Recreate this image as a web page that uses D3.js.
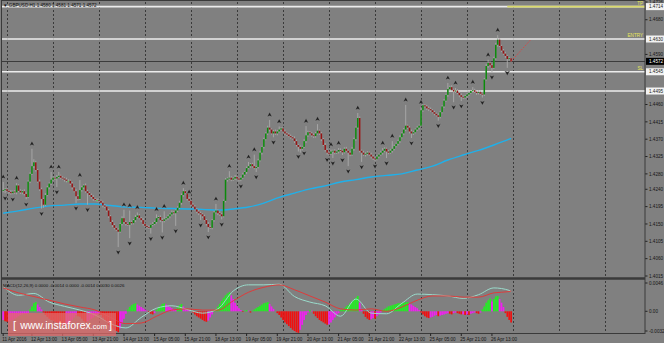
<!DOCTYPE html>
<html>
<head>
<meta charset="utf-8">
<script src="https://cdn.jsdelivr.net/npm/d3@7"></script>
<style>
html, body { margin: 0; padding: 0; background: #808080; }
svg { display: block; font-family: "Liberation Sans", Arial, sans-serif; }
</style>
</head>
<body>
<svg id="chart"></svg>
<script>
// GBPUSD H1 – prices are stored as pips above 1.4000
const symbolTitle = "GBPUSD,H1";
const firstOpen = 236;
const closes = [
  238,240,236,233,230,234,232,250,236,232,
  235,228,220,260,280,300,310,290,260,240,
  215,200,225,245,255,265,270,268,272,275,
  270,268,265,262,262,255,245,235,222,215,
  238,245,250,235,230,225,220,215,212,212,
  210,205,198,195,185,170,155,147,140,135,
  130,150,165,155,150,148,155,152,160,168,
  172,165,160,150,145,142,140,148,150,155,
  165,168,160,158,162,165,170,175,180,178,
  185,192,205,225,235,230,215,210,200,195,
  188,182,178,175,170,160,150,142,140,160,
  180,185,178,175,170,210,265,268,270,265,
  268,272,268,265,270,278,285,295,300,305,
  300,295,298,315,335,350,370,385,400,395,
  385,390,385,390,395,398,390,385,382,378,
  375,372,365,355,350,345,350,365,380,388,
  385,380,378,385,392,385,370,355,342,335,
  332,338,340,335,338,342,340,336,345,340,
  335,330,345,370,400,425,340,335,330,332,
  335,330,325,320,318,325,330,335,340,345,
  338,335,340,345,352,358,365,375,385,395,
  405,400,390,385,388,395,400,405,445,458,
  455,450,448,445,440,436,432,428,440,455,
  470,485,500,505,498,494,496,490,484,480,
  478,482,486,490,495,497,493,490,492,488,
  486,525,560,568,562,555,580,615,628,612,
  600,592,586,578,580,572
];
// wick length above / below the body, pips
const upperWick = [
  21,3,4,2,5,3,4,6,3,4, 3,5,4,3,4,45,8,4,3,5, 4,3,5,4,3,20,4,3,5,10,
  3,4,3,5,4,3,4,3,5,4, 26,4,3,5,4,3,4,5,3,4, 4,3,5,4,3,4,3,5,4,3,
  4,3,5,22,4,3,30,4,3,5, 8,4,3,5,4,3,4,3,5,4, 10,3,4,5,21,3,4,3,5,4,
  3,4,5,4,8,3,4,5,3,4, 4,3,5,4,3,4,3,5,4,3, 4,17,3,5,4,3,4,3,17,4,
  3,5,4,3,4,5,3,4,11,3, 4,30,3,4,5,3,4,3,5,20, 3,4,5,4,8,3,4,5,3,4,
  4,3,5,4,3,4,3,5,24,4, 3,4,5,4,17,3,4,3,5,4, 4,5,3,4,3,5,4,3,4,5,
  3,4,5,4,3,13,4,3,5,4, 4,3,5,4,3,4,3,5,7,4, 3,4,5,20,4,3,4,5,3,4,
  54,3,4,5,4,3,4,3,8,4, 3,4,5,4,3,4,3,5,4,3, 4,3,16,4,5,3,7,4,3,5,
  4,3,4,5,3,8,4,3,5,4, 3,4,5,8,4,3,4,5,12,4, 3,4,5,3,4,1
];
const lowerWick = [
  4,8,3,5,4,3,4,5,3,4, 5,4,6,3,4,3,5,4,3,4, 25,8,4,3,5,4,3,4,22,3,
  4,3,5,4,3,4,5,3,18,4, 3,4,5,4,30,3,4,5,3,4, 4,3,5,4,3,4,3,5,4,3,
  40,3,4,5,4,3,35,4,3,5, 4,3,5,4,3,4,3,15,4,3, 4,3,5,30,4,3,4,5,3,4,
  33,4,3,5,4,3,4,3,5,4, 3,4,5,15,4,3,4,13,3,4, 4,3,5,4,8,3,4,5,3,4,
  3,4,5,5,4,3,4,5,3,4, 4,3,10,4,3,5,4,3,4,5, 3,10,4,5,3,4,3,5,4,3,
  4,3,5,4,12,10,4,3,5,4, 3,4,5,4,3,4,5,3,4,5, 4,3,17,4,3,5,4,7,3,4,
  35,4,3,5,4,3,4,24,3,5, 4,3,5,4,5,3,4,3,5,4, 17,4,3,5,4,3,4,5,3,4,
  4,3,5,12,4,3,4,5,3,4, 3,4,5,4,3,4,3,10,4,3, 4,3,5,4,3,28,4,3,5,11,
  4,3,5,4,3,4,3,5,4,3, 8,4,3,5,4,11,3,4,5,3, 4,3,5,23,4,1
];
const fractalsUp = [0,7,15,25,29,40,63,66,70,80,84,94,97,111,118,128,131,139,144,158,164,171,175,185,198,203,210,218,232,236,245,253,258];
const fractalsDown = [1,5,12,20,28,38,44,60,66,77,83,90,103,107,114,124,132,141,154,157,169,172,177,180,187,194,200,213,227,235,239,250,255,263];

// moving average, pips, sampled at these bars
const maBars   = [0,8,16,24,32,40,48,56,64,72,80,88,96,104,112,120,128,136,144,152,160,168,176,184,192,200,208,216,224,232,240,248,256,264,265];
const maValues = [178,184,191,197,199,202,202,198,194,193,191,190,189,188,186,189,194,204,219,230,241,249,259,265,272,276,280,290,300,316,329,341,355,370,372];

// levels
const levelPrices = [1.4714, 1.4630, 1.4545, 1.4495];
const levelNames  = ["TP", "ENTRY", "SL", ""];
const tpStartBar = 263;
const trendBars = [265, 275];
const trendPrices = [1.4572, 1.4627];

const priceTicks = [1.4726,1.4680,1.4590,1.4460,1.4415,1.4370,1.4325,1.4280,1.4240,1.4195,1.4150,1.4105,1.4060,1.4015];
const timeBars = [0,15,31,47,63,79,95,111,127,143,159,175,191,207,223,239,255];
const timeLabels = ["11 Apr 2016","12 Apr 13:00","13 Apr 05:00","13 Apr 21:00","14 Apr 13:00","15 Apr 05:00","15 Apr 21:00","18 Apr 13:00","19 Apr 05:00","19 Apr 21:00","20 Apr 13:00","21 Apr 05:00","21 Apr 21:00","22 Apr 13:00","25 Apr 05:00","25 Apr 21:00","26 Apr 13:00"];

// MACD, in units of 0.0001
const macdHist = [
  -14,-16,-17,-16,-15,-14,-12,-10,-8,-6,
  -5,-4,-4,-3,3,8,13,15,11,7,
  3,-2,-6,-9,-12,-14,-15,-17,-18,-19,
  -20,-21,-22,-21,-20,-18,-14,-10,-6,-8,
  -9,-12,-16,-18,-16,-14,-12,-10,-8,-6,
  -4,-6,-10,-14,-18,-22,-25,-28,-30,-32,
  -34,-28,-20,-12,-4,3,7,10,12,13,
  11,9,7,5,3,1,-2,-4,-5,-3,
  2,6,9,12,13,11,9,7,5,3,
  2,6,10,12,8,5,3,2,0,-2,
  -5,-8,-10,-12,-14,-16,-17,-15,-10,-5,
  2,4,8,12,17,22,26,29,31,26,
  20,14,9,5,2,-1,1,2,1,-2,
  1,3,5,7,9,11,13,14,15,12,
  8,4,0,-3,-6,-10,-14,-18,-21,-24,
  -27,-30,-32,-34,-35,-30,-22,-14,-6,-2,
  2,1,-4,-8,-11,-14,-16,-18,-20,-22,
  -21,-18,-14,-10,-6,-3,2,3,5,8,
  10,13,16,19,22,25,14,4,-4,-9,
  -12,-14,-13,-11,-12,-8,-5,-2,2,4,
  6,8,9,10,11,12,13,13,14,14,
  15,15,13,11,9,7,5,2,-2,-5,
  -8,-10,-11,-10,-9,-7,-6,-8,-7,-6,
  -5,-4,-3,-4,-5,-3,-2,-3,-4,-5,
  -5,-6,-5,-6,-4,-3,-2,-3,-4,-2,
  3,8,14,18,21,16,20,24,25,20,
  14,7,-3,-9,-14,-18
];
const macdBars   = [0,8,16,24,32,40,48,56,64,72,80,88,96,104,112,120,128,136,144,152,160,168,176,184,192,200,208,216,224,232,240,248,256,264,265];
const macdMain   = [40,26,29,15,8,2,-6,-20,-27,-10,5,9,3,-3,4,33,43,43,44,24,15,9,-8,20,-3,-4,13,28,27,25,21,27,38,34,32];
const macdSignal = [38,30,24,18,12,7,2,-10,-20,-19,-8,2,4,2,2,17,31,39,43,35,25,15,4,2,4,0,7,18,25,25,23,23,30,32,33];
const macdTitle = "MACD(12,26,9) 0.0000 -0.0014 0.0000 -0.0014 0.0030 0.0026";
const macdTicks = [0.0046, 0.00, -0.0032];
const macdTickText = ["0.0046", "0.00", "-0.0032"];

const width = 664, height = 343;
const plotRight = 645;
const svg = d3.select("#chart").attr("width", width).attr("height", height);

const x = d3.scaleLinear().domain([0, 24]).range([3.2, 3.2 + 46]);
const y = d3.scaleLinear().domain([1.4015, 1.4726]).range([276, 2]);
const ym = d3.scaleLinear().domain([-0.0032, 0.0046]).range([331, 283]);
const pip = v => 1.4 + v / 10000;

svg.append("rect").attr("width", width).attr("height", height).attr("fill", "#808080");

// dotted vertical grid (both panes)
const gridBars = d3.range(2, 330, 24);
[[2, 277], [281, 333]].forEach(([t, b]) => {
  svg.append("g").selectAll("line").data(gridBars).join("line")
    .attr("x1", d => Math.round(x(d)) + 0.5).attr("x2", d => Math.round(x(d)) + 0.5)
    .attr("y1", t).attr("y2", b)
    .attr("stroke", "#3a3a3a").attr("stroke-dasharray", "2,2");
});

// level lines
svg.append("g").selectAll("line").data(levelPrices).join("line")
  .attr("x1", 2).attr("x2", plotRight)
  .attr("y1", d => y(d)).attr("y2", d => y(d))
  .attr("stroke", "#ececec").attr("stroke-width", 1.6);

svg.append("line")
  .attr("x1", x(tpStartBar)).attr("x2", plotRight)
  .attr("y1", y(levelPrices[0])).attr("y2", y(levelPrices[0]))
  .attr("stroke", "#d9d96a").attr("stroke-width", 1.6);

// current price line
const lastClose = pip(closes[closes.length - 1]);
svg.append("line")
  .attr("x1", 2).attr("x2", plotRight)
  .attr("y1", Math.round(y(lastClose)) + 0.5).attr("y2", Math.round(y(lastClose)) + 0.5)
  .attr("stroke", "#3c3c3c");

// moving average
svg.append("path")
  .datum(maBars.map((b, i) => [b, maValues[i]]))
  .attr("fill", "none").attr("stroke", "#1fb0ea").attr("stroke-width", 1.4)
  .attr("d", d3.line().x(d => x(d[0])).y(d => y(pip(d[1]))).curve(d3.curveMonotoneX));

// candles
const bars = closes.map((c, i) => {
  const o = i === 0 ? firstOpen : closes[i - 1];
  return { i, o, c, h: Math.max(o, c) + upperWick[i], l: Math.min(o, c) - lowerWick[i] };
});
const candle = svg.append("g").selectAll("g").data(bars).join("g");
candle.append("line")
  .attr("x1", d => x(d.i)).attr("x2", d => x(d.i))
  .attr("y1", d => y(pip(d.h))).attr("y2", d => y(pip(d.l)))
  .attr("stroke", "#a9a9a9").attr("stroke-width", 0.9);
candle.append("rect")
  .attr("x", d => x(d.i) - 0.75).attr("width", 1.5)
  .attr("y", d => y(pip(Math.max(d.o, d.c))))
  .attr("height", d => Math.max(0.8, y(pip(Math.min(d.o, d.c))) - y(pip(Math.max(d.o, d.c)))))
  .attr("fill", d => d.c > d.o ? "#0b8a0b" : d.c < d.o ? "#961414" : "#33dd33");

// fractals
const upArrow = "M0,-2.8 L2.6,2.1 L0,0.9 L-2.6,2.1 Z";
svg.append("g").selectAll("path").data(fractalsUp).join("path")
  .attr("d", upArrow)
  .attr("transform", d => `translate(${x(d)},${y(pip(bars[d].h)) - 5})`)
  .attr("fill", "#1c1c1c").attr("stroke", "#9a9a9a").attr("stroke-width", 0.4);
svg.append("g").selectAll("path").data(fractalsDown).join("path")
  .attr("d", upArrow)
  .attr("transform", d => `translate(${x(d)},${y(pip(bars[d].l)) + 5}) scale(1,-1)`)
  .attr("fill", "#1c1c1c").attr("stroke", "#9a9a9a").attr("stroke-width", 0.4);

// red dotted projection
svg.append("line")
  .attr("x1", x(trendBars[0])).attr("y1", y(trendPrices[0]))
  .attr("x2", x(trendBars[1])).attr("y2", y(trendPrices[1]))
  .attr("stroke", "#e63c3c").attr("stroke-width", 0.9).attr("stroke-dasharray", "1.5,1.5");

// level names
svg.append("g").selectAll("text").data(levelNames).join("text")
  .attr("x", 643).attr("y", (d, i) => y(levelPrices[i]) - 2)
  .attr("text-anchor", "end").attr("font-size", 4.6).attr("fill", "#e8e85a")
  .text(d => d);

// header
const last = bars[bars.length - 1];
svg.append("text").attr("x", 3).attr("y", 6.5).attr("font-size", 4.6).attr("fill", "#111")
  .text(`▼ ${symbolTitle}  ${pip(last.o).toFixed(4)} ${pip(last.h).toFixed(4)} ${pip(last.l).toFixed(4)} ${pip(last.c).toFixed(4)}`);

// price axis
const axisG = svg.append("g");
axisG.selectAll("line").data(priceTicks).join("line")
  .attr("x1", plotRight).attr("x2", plotRight + 2.5)
  .attr("y1", d => y(d)).attr("y2", d => y(d)).attr("stroke", "#222");
axisG.selectAll("text").data(priceTicks).join("text")
  .attr("x", plotRight + 4).attr("y", d => y(d) + 1.7)
  .attr("font-size", 4.6).attr("fill", "#151515")
  .text(d => d.toFixed(4));

const boxes = levelPrices.map(p => ({ p, bg: "#f2f2f2", fg: "#222" }))
  .concat([{ p: lastClose, bg: "#000", fg: "#fff" }]);
const boxG = svg.append("g").selectAll("g").data(boxes).join("g")
  .attr("transform", d => `translate(${plotRight + 1},${y(d.p)})`);
boxG.append("rect").attr("x", 0).attr("y", -3.5).attr("width", 19).attr("height", 7).attr("fill", d => d.bg);
boxG.append("text").attr("x", 3).attr("y", 1.7).attr("font-size", 4.6).attr("fill", d => d.fg)
  .text(d => d.p.toFixed(4));

// MACD histogram
const histG = svg.append("g");
histG.selectAll("line").data(macdHist).join("line")
  .attr("x1", (d, i) => x(i)).attr("x2", (d, i) => x(i))
  .attr("y1", ym(0)).attr("y2", d => ym(d / 10000))
  .attr("stroke-width", 1.7)
  .attr("stroke", (d, i) => {
    const prev = i === 0 ? d : macdHist[i - 1];
    if (d >= 0) return d >= prev ? "#22ee22" : "#f020f0";
    return d < prev ? "#f01010" : "#f020f0";
  });

const lineM = d3.line().x(d => x(d[0])).y(d => ym(d[1] / 10000)).curve(d3.curveMonotoneX);
svg.append("path").datum(macdBars.map((b, i) => [b, macdMain[i]]))
  .attr("fill", "none").attr("stroke", "#9adccc").attr("stroke-width", 1).attr("d", lineM);
svg.append("path").datum(macdBars.map((b, i) => [b, macdSignal[i]]))
  .attr("fill", "none").attr("stroke", "#e03a3a").attr("stroke-width", 1).attr("d", lineM);

svg.append("text").attr("x", 3).attr("y", 287).attr("font-size", 4.4).attr("fill", "#111").text(macdTitle);

const mAxis = svg.append("g");
mAxis.selectAll("line").data(macdTicks).join("line")
  .attr("x1", plotRight).attr("x2", plotRight + 2.5)
  .attr("y1", d => ym(d)).attr("y2", d => ym(d)).attr("stroke", "#222");
mAxis.selectAll("text").data(macdTickText).join("text")
  .attr("x", plotRight + 4).attr("y", (d, i) => ym(macdTicks[i]) + 1.7)
  .attr("font-size", 4.6).attr("fill", "#151515").text(d => d);

// frames
svg.append("rect").attr("x", 1.5).attr("y", 0.5).attr("width", plotRight - 1.5).attr("height", 333)
  .attr("fill", "none").attr("stroke", "#3a3a3a");
svg.append("line").attr("x1", 1.5).attr("x2", plotRight).attr("y1", 278.5).attr("y2", 278.5)
  .attr("stroke", "#3a3a3a").attr("stroke-width", 2.5);

// time axis
const tG = svg.append("g");
tG.selectAll("line").data(timeBars).join("line")
  .attr("x1", d => x(d)).attr("x2", d => x(d)).attr("y1", 333.5).attr("y2", 336)
  .attr("stroke", "#222");
tG.selectAll("text").data(timeLabels).join("text")
  .attr("x", (d, i) => x(timeBars[i]) - 1).attr("y", 341)
  .attr("font-size", 4.6).attr("fill", "#151515").text(d => d);

// watermark
const wm = svg.append("g");
wm.append("rect").attr("x", 8).attr("y", 313).attr("width", 108).attr("height", 23)
  .attr("fill", "#e06a6a").attr("opacity", 0.75);
const wmText = wm.append("text").attr("x", 13).attr("y", 329).attr("fill", "#fff");
wmText.append("tspan").attr("font-size", 11).text("[ ");
wmText.append("tspan").attr("font-size", 10.5).attr("dx", 1).text("www.instaforex");
wmText.append("tspan").attr("font-size", 7.5).text(".com");
wmText.append("tspan").attr("font-size", 11).attr("dx", 2).text("]");
</script>
</body>
</html>
